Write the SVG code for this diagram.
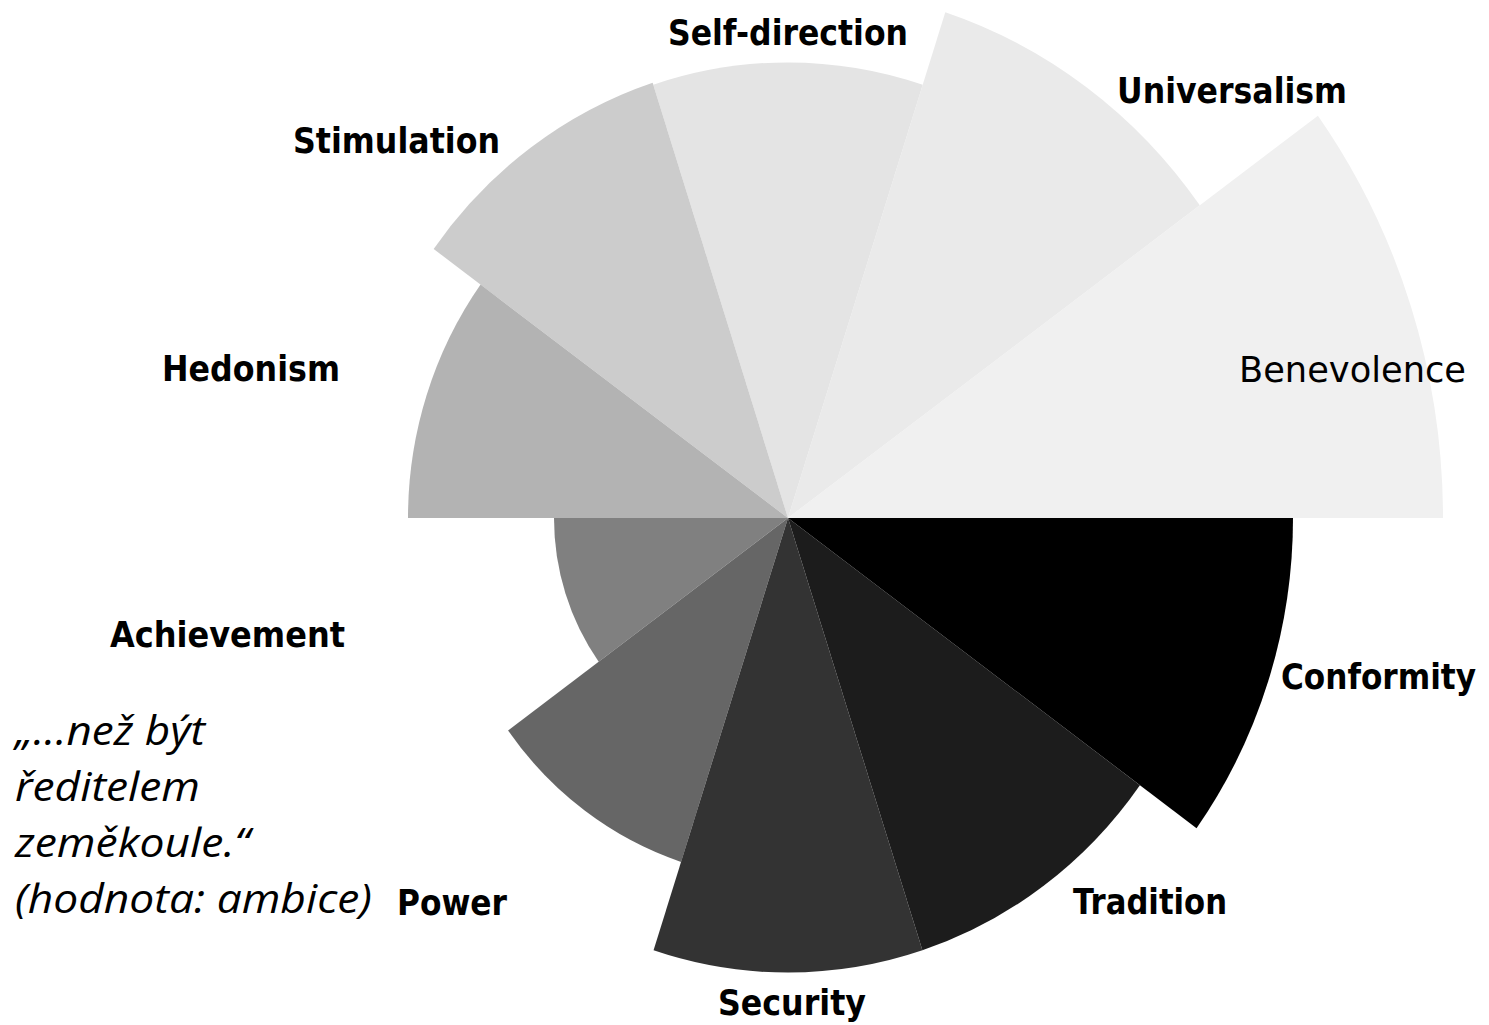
<svg xmlns="http://www.w3.org/2000/svg" width="1489" height="1025" viewBox="0 0 1489 1025">
<style>
.lbl{font-family:"DejaVu Sans","Liberation Sans",sans-serif;font-weight:bold;font-size:35px;fill:#000}
.lblr{font-family:"DejaVu Sans","Liberation Sans",sans-serif;font-weight:normal;font-size:35px;fill:#000}
.cond{font-family:"DejaVu Sans Condensed","DejaVu Sans","Liberation Sans",sans-serif;font-stretch:condensed}
.quote{font-family:"Open Sans","Liberation Sans",sans-serif;font-style:italic;font-size:40px;fill:#000}
</style>
<rect width="1489" height="1025" fill="#ffffff"/>
<g id="sectors" transform="translate(788,518) scale(1,1.045)">
<g id="benevolence"><path d="M0,0 L655,0 A655,655 0 0 0 529.91,-385.00 Z" fill="#f0f0f0"/></g>
<g id="universalism"><path d="M0,0 L411.79,-299.18 A509,509 0 0 0 157.29,-484.09 Z" fill="#eaeaea"/></g>
<g id="self-direction"><path d="M0,0 L134.73,-414.66 A436,436 0 0 0 -134.73,-414.66 Z" fill="#e4e4e4"/></g>
<g id="stimulation"><path d="M0,0 L-135.35,-416.56 A438,438 0 0 0 -354.35,-257.45 Z" fill="#cccccc"/></g>
<g id="hedonism"><path d="M0,0 L-307.43,-223.36 A380,380 0 0 0 -380,0 Z" fill="#b3b3b3"/></g>
<g id="achievement"><path d="M0,0 L-234,0 A234,234 0 0 0 -189.31,137.54 Z" fill="#808080"/></g>
<g id="power"><path d="M0,0 L-279.92,203.37 A346,346 0 0 0 -106.92,329.07 Z" fill="#666666"/></g>
<g id="security"><path d="M0,0 L-134.42,413.71 A435,435 0 0 0 134.42,413.71 Z" fill="#333333"/></g>
<g id="tradition"><path d="M0,0 L134.42,413.71 A435,435 0 0 0 351.92,255.69 Z" fill="#1c1c1c"/></g>
<g id="conformity"><path d="M0,0 L408.55,296.83 A505,505 0 0 0 505,0 Z" fill="#000000"/></g>
</g>
<g id="labels">
<text class="lbl" x="668" y="45" textLength="240" lengthAdjust="spacingAndGlyphs">Self-direction</text>
<text class="lbl" x="1117" y="103" textLength="230" lengthAdjust="spacingAndGlyphs">Universalism</text>
<text class="lbl" x="293" y="153" textLength="207" lengthAdjust="spacingAndGlyphs">Stimulation</text>
<text class="lbl" x="162" y="381" textLength="178" lengthAdjust="spacingAndGlyphs">Hedonism</text>
<text class="lblr" x="1239" y="382" textLength="227" lengthAdjust="spacingAndGlyphs">Benevolence</text>
<text class="lbl" x="110" y="647" textLength="235" lengthAdjust="spacingAndGlyphs">Achievement</text>
<text class="lbl cond" x="1281" y="689" textLength="195" lengthAdjust="spacingAndGlyphs">Conformity</text>
<text class="lbl" x="1073" y="914" textLength="154" lengthAdjust="spacingAndGlyphs">Tradition</text>
<text class="lbl" x="397" y="915" textLength="110" lengthAdjust="spacingAndGlyphs">Power</text>
<text class="lbl" x="718" y="1015" textLength="148" lengthAdjust="spacingAndGlyphs">Security</text>
</g>
<g id="quote">
<text class="quote" x="15" y="745" textLength="190" lengthAdjust="spacingAndGlyphs">„...než být</text>
<text class="quote" x="15" y="801" textLength="185" lengthAdjust="spacingAndGlyphs">ředitelem</text>
<text class="quote" x="15" y="857" textLength="235" lengthAdjust="spacingAndGlyphs">zeměkoule.“</text>
<text class="quote" x="15" y="913" textLength="357" lengthAdjust="spacingAndGlyphs">(hodnota: ambice)</text>
</g>
</svg>
